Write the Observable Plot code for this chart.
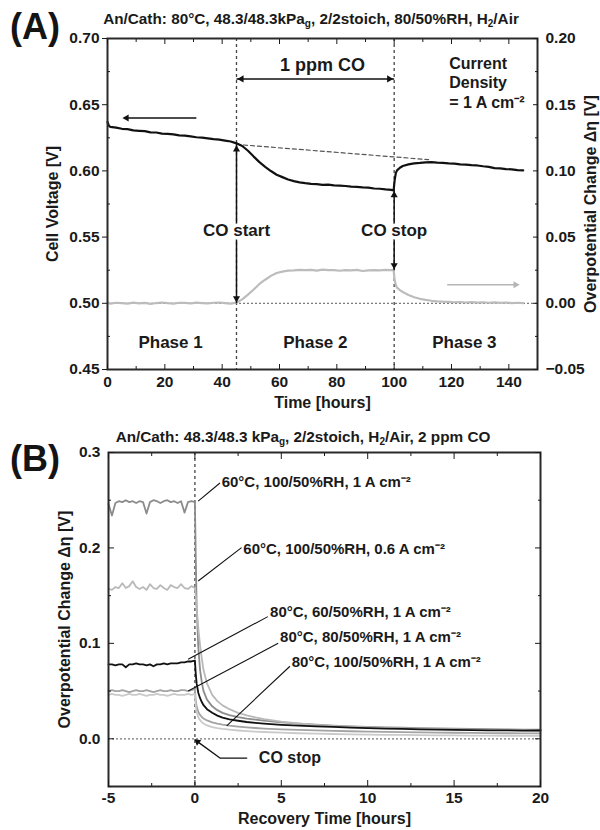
<!DOCTYPE html>
<html>
<head>
<meta charset="utf-8">
<script src="https://cdn.jsdelivr.net/npm/d3@7"></script>
<script src="https://cdn.jsdelivr.net/npm/@observablehq/plot@0.6"></script>
<style>
  body { margin: 0; background: #fff; }
  #wrap { position: relative; width: 600px; height: 830px; font-family: "Liberation Sans", Arial, sans-serif; font-weight: bold; color: #1a1a1a; }
  .panel { position: absolute; left: 0; }
  .tag { position: absolute; font-size: 36px; font-weight: bold; line-height: 1; color: #141414; }
  .title { position: absolute; font-size: 15.3px; font-weight: bold; white-space: nowrap; transform: translateX(-50%); line-height: 1; }
  .title sub { font-size: 10px; vertical-align: -3px; line-height: 0; }
  #wrap svg text { font-weight: bold !important; }
  #wrap svg g[aria-label$="tick label"] text { font-size: 15.5px !important; }
</style>
</head>
<body>
<div id="wrap">
  <div id="panelA" class="panel" style="top:0"></div>
  <div id="panelB" class="panel" style="top:412px"></div>
  <div class="tag" style="left:10px;top:9px">(A)</div>
  <div class="title" style="left:311px;top:11px">An/Cath: 80°C, 48.3/48.3kPa<sub>g</sub>, 2/2stoich, 80/50%RH, H<sub>2</sub>/Air</div>
  <div class="tag" style="left:10px;top:441px">(B)</div>
  <div class="title" style="left:303px;top:429px">An/Cath: 48.3/48.3 kPa<sub>g</sub>, 2/2stoich, H<sub>2</sub>/Air, 2 ppm CO</div>
</div>
<script>
// ---------- Panel A: cell voltage and overpotential change during a 1 ppm CO exposure ----------
const hoursA = [
  0, 0.5, 1, 3, 5, 7, 9, 11, 13, 15, 17, 19, 21, 23, 25, 27, 29, 31, 33, 35, 37, 39, 41, 43, 45,
  47, 49, 51, 53, 55, 57, 59, 61, 63, 65, 67, 69, 71, 73, 75, 77, 79, 81, 83, 85, 87, 89, 91, 93, 95, 97, 99, 99.8,
  100.2, 100.6, 101, 102, 103, 105, 107, 109, 111, 113, 115, 117, 119, 121, 123, 125, 127, 129, 131, 133, 135, 137, 139, 141, 143, 145
];
const cellVoltage = [
  0.6370, 0.6340, 0.6332, 0.6327, 0.6318, 0.6315, 0.6306, 0.6303, 0.6300, 0.6291, 0.6290, 0.6282, 0.6280, 0.6276, 0.6268, 0.6266, 0.6261, 0.6254, 0.6251, 0.6246, 0.6240, 0.6236, 0.6229, 0.6222, 0.6208,
  0.6188, 0.6152, 0.6108, 0.6066, 0.6031, 0.5999, 0.5971, 0.5953, 0.5935, 0.5923, 0.5913, 0.5907, 0.5902, 0.5900, 0.5895, 0.5896, 0.5891, 0.5889, 0.5886, 0.5881, 0.5880, 0.5876, 0.5874, 0.5867, 0.5865, 0.5860, 0.5857, 0.5852,
  0.5935, 0.5985, 0.6004, 0.6024, 0.6037, 0.6049, 0.6057, 0.6060, 0.6065, 0.6066, 0.6063, 0.6061, 0.6057, 0.6055, 0.6049, 0.6048, 0.6043, 0.6041, 0.6035, 0.6030, 0.6021, 0.6019, 0.6014, 0.6012, 0.6006, 0.6004
];
const overpotentialA = [
  0.0000, 0.0002, -0.0003, 0.0004, 0.0001, -0.0002, 0.0005, 0.0000, 0.0003, -0.0004, 0.0002, 0.0006, 0.0001, -0.0002, 0.0004, 0.0003, 0.0000, 0.0005, 0.0002, -0.0001, 0.0004, 0.0006, 0.0002, -0.0003, 0.0005,
  0.0030, 0.0066, 0.0104, 0.0146, 0.0178, 0.0207, 0.0229, 0.0239, 0.0247, 0.0249, 0.0253, 0.0250, 0.0252, 0.0247, 0.0254, 0.0250, 0.0251, 0.0246, 0.0251, 0.0249, 0.0253, 0.0244, 0.0248, 0.0250, 0.0249, 0.0252, 0.0250, 0.0253,
  0.0172, 0.0136, 0.0118, 0.0099, 0.0085, 0.0063, 0.0046, 0.0034, 0.0026, 0.0019, 0.0015, 0.0012, 0.0011, 0.0008, 0.0010, 0.0006, 0.0009, 0.0005, 0.0008, 0.0004, 0.0007, 0.0003, 0.0006, 0.0002, 0.0004, 0.0001
];
const zeroOverpotentialVoltage = 0.50;      // Δη = 0 on the right axis lines up with 0.50 V
const coWindow = [45, 100];                 // CO start, CO stop (hours)
const trendHours = [45, 112];               // extrapolated pre-CO decay
const trendVoltage = [0.6200, 0.6085];
const voltageTicks = [0.45, 0.50, 0.55, 0.60, 0.65, 0.70];
const voltageMinor = [0.475, 0.525, 0.575, 0.625, 0.675];
const overpotentialTicks = [-0.05, 0.00, 0.05, 0.10, 0.15, 0.20];
const hourTicksA = [0, 20, 40, 60, 80, 100, 120, 140];
const hourMinorA = [10, 30, 50, 70, 90, 110, 130, 150];
const phaseNames = ["Phase 1", "Phase 2", "Phase 3"];
const phaseHours = [22, 72.5, 124.5];
const phaseVoltage = 0.4705;
const coSpanVoltage = 0.6695;
const coStartSpan = [0.620, 0.500];
const coStopSpan = [0.5855, 0.5250];
const coLabelVoltage = 0.555;
const voltageArrow = {hours: [31, 7], voltage: 0.640};
const overpotArrow = {hours: [118.5, 142], voltage: 0.514};
const densityNote = {hours: 119.2, voltage: 0.667, text: "Current\nDensity\n= 1 A cm⁻²"};

// ---------- Panel B: recovery of the overpotential after CO is switched off ----------
const recoveryHours = [
  -5, -4.8, -4.6, -4.4, -4.2, -4, -3.8, -3.6, -3.4, -3.2, -3, -2.8, -2.6, -2.4, -2.2, -2, -1.8, -1.6, -1.4, -1.2, -1, -0.8, -0.6, -0.4, -0.2, 0,
  0.05, 0.1, 0.2, 0.3, 0.4, 0.5, 0.7, 1, 1.3, 1.6, 2, 2.5, 3, 3.5, 4, 5, 6, 7, 8, 9, 10, 11, 12, 13, 14, 15, 16, 17, 18, 19, 20
];
const eta60C1A = [
  0.246, 0.234, 0.247, 0.249, 0.248, 0.250, 0.248, 0.249, 0.247, 0.249, 0.248, 0.236, 0.248, 0.250, 0.249, 0.247, 0.249, 0.250, 0.248, 0.249, 0.247, 0.249, 0.237, 0.248, 0.249, 0.248,
  0.190, 0.140, 0.095, 0.072, 0.059, 0.050, 0.041, 0.034, 0.0300, 0.0272, 0.0248, 0.0228, 0.0212, 0.0200, 0.0190, 0.0172, 0.0158, 0.0147, 0.0138, 0.0131, 0.0125, 0.0120, 0.0116, 0.0112, 0.0109, 0.0106, 0.0103, 0.0101, 0.0099, 0.0097, 0.0095
];
const eta60C06A = [
  0.157, 0.156, 0.159, 0.158, 0.163, 0.158, 0.160, 0.165, 0.159, 0.157, 0.159, 0.156, 0.162, 0.158, 0.157, 0.161, 0.158, 0.156, 0.161, 0.159, 0.158, 0.162, 0.158, 0.157, 0.160, 0.158,
  0.150, 0.138, 0.115, 0.098, 0.084, 0.072, 0.058, 0.046, 0.0395, 0.0350, 0.0310, 0.0272, 0.0245, 0.0224, 0.0206, 0.0180, 0.0160, 0.0146, 0.0136, 0.0128, 0.0121, 0.0115, 0.0110, 0.0106, 0.0102, 0.0099, 0.0096, 0.0093, 0.0091, 0.0089, 0.0087
];
const eta80C60RH = [
  0.078, 0.078, 0.077, 0.078, 0.078, 0.075, 0.078, 0.078, 0.079, 0.078, 0.078, 0.077, 0.078, 0.076, 0.078, 0.078, 0.079, 0.078, 0.079, 0.079, 0.079, 0.080, 0.080, 0.081, 0.081, 0.082,
  0.068, 0.058, 0.048, 0.0425, 0.0385, 0.0352, 0.0310, 0.0272, 0.0243, 0.0222, 0.0203, 0.0189, 0.0176, 0.0166, 0.0158, 0.0146, 0.0138, 0.0129, 0.0124, 0.0117, 0.0112, 0.0107, 0.0104, 0.0099, 0.0097, 0.0094, 0.0091, 0.0089, 0.0088, 0.0086, 0.0087
];
const eta80C80RH = [
  0.050, 0.051, 0.050, 0.050, 0.051, 0.050, 0.049, 0.050, 0.051, 0.050, 0.050, 0.051, 0.050, 0.049, 0.050, 0.051, 0.050, 0.050, 0.051, 0.050, 0.050, 0.051, 0.051, 0.050, 0.051, 0.052,
  0.040, 0.034, 0.028, 0.025, 0.0228, 0.0212, 0.0192, 0.0172, 0.0158, 0.0148, 0.0137, 0.0127, 0.0119, 0.0113, 0.0107, 0.0099, 0.0093, 0.0088, 0.0083, 0.0079, 0.0075, 0.0072, 0.0069, 0.0067, 0.0065, 0.0063, 0.0061, 0.0060, 0.0058, 0.0057, 0.0056
];
const eta80C100RH = [
  0.046, 0.047, 0.046, 0.046, 0.045, 0.046, 0.047, 0.046, 0.046, 0.047, 0.046, 0.045, 0.046, 0.046, 0.047, 0.046, 0.046, 0.045, 0.046, 0.047, 0.046, 0.046, 0.046, 0.047, 0.046, 0.047,
  0.034, 0.028, 0.0225, 0.0195, 0.0175, 0.0160, 0.0140, 0.0122, 0.0111, 0.0103, 0.0095, 0.0087, 0.0080, 0.0075, 0.0071, 0.0064, 0.0058, 0.0054, 0.0050, 0.0047, 0.0044, 0.0042, 0.0040, 0.0038, 0.0036, 0.0035, 0.0034, 0.0033, 0.0032, 0.0031, 0.0030
];
const seriesLabels = [
  "60°C, 100/50%RH, 1 A cm⁻²",
  "60°C, 100/50%RH, 0.6 A cm⁻²",
  "80°C, 60/50%RH, 1 A cm⁻²",
  "80°C, 80/50%RH, 1 A cm⁻²",
  "80°C, 100/50%RH, 1 A cm⁻²"
];
const labelHours = [1.55, 2.8, 4.35, 4.93, 5.6];
const labelEta = [0.2684, 0.1986, 0.1323, 0.1061, 0.0799];
const leaderFromHours = [0.19, 0.19, -0.39, -0.39, 1.84];
const leaderFromEta = [0.249, 0.1654, 0.0834, 0.050, 0.0136];
const leaderToHours = [1.45, 2.70, 4.22, 4.82, 5.50];
const leaderToEta = [0.268, 0.2003, 0.128, 0.100, 0.076];
const coStopPathHours = [3.0, 1.45, 0.15];
const coStopPathEta = [-0.0202, -0.0202, -0.003];
const coStopLabel = {hours: 3.7, eta: -0.0202};
const etaTicksB = [0.0, 0.1, 0.2, 0.3];
const etaMinorB = [-0.05, 0.05, 0.15, 0.25];
const hourTicksB = [-5, 0, 5, 10, 15, 20];
const hourMinorB = [-2.5, 2.5, 7.5, 12.5, 17.5];

// ---------- drawing ----------
const font = "'Liberation Sans', Arial, Helvetica, sans-serif";
const ink = "#1a1a1a";
const baseStyle = {fontFamily: font, fontWeight: "bold", fontSize: "15px", color: ink, background: "transparent"};
const blank = () => "";
const f2 = d3.format(".2f");
const f1 = d3.format(".1f");

const plotA = Plot.plot({
  width: 600, height: 412,
  marginTop: 38, marginBottom: 43, marginLeft: 107, marginRight: 63,
  x: {domain: [0, 150]},
  y: {domain: [0.45, 0.70]},
  style: baseStyle,
  marks: [
    Plot.ruleY([zeroOverpotentialVoltage], {stroke: "#7a7a7a", strokeWidth: 1.3, strokeDasharray: "2,2"}),
    Plot.ruleX(coWindow, {stroke: "#444", strokeWidth: 1.3, strokeDasharray: "3,3"}),
    Plot.line(trendHours, {x: trendHours, y: trendVoltage, stroke: "#555", strokeWidth: 1.2, strokeDasharray: "4,3"}),
    Plot.line(hoursA, {x: hoursA, y: overpotentialA.map(d => d + zeroOverpotentialVoltage), stroke: "#bcbcbc", strokeWidth: 2.2}),
    Plot.line(hoursA, {x: hoursA, y: cellVoltage, stroke: "#111", strokeWidth: 2.2}),

    // direction arrows for each axis
    Plot.link([0], {x1: voltageArrow.hours[0], x2: voltageArrow.hours[1], y1: voltageArrow.voltage, y2: voltageArrow.voltage, stroke: "#111", strokeWidth: 1.5}),
    Plot.dot([0], {x: voltageArrow.hours[1], y: voltageArrow.voltage, symbol: "triangle2", r: 3.4, rotate: -90, fill: "#111", dx: -1}),
    Plot.link([0], {x1: overpotArrow.hours[0], x2: overpotArrow.hours[1], y1: overpotArrow.voltage, y2: overpotArrow.voltage, stroke: "#b5b5b5", strokeWidth: 1.5}),
    Plot.dot([0], {x: overpotArrow.hours[1], y: overpotArrow.voltage, symbol: "triangle2", r: 3.4, rotate: 90, fill: "#b5b5b5", dx: 1}),

    // 1 ppm CO window
    Plot.link([0], {x1: coWindow[0], x2: coWindow[1], y1: coSpanVoltage, y2: coSpanVoltage, stroke: "#111", strokeWidth: 1.5}),
    Plot.dot([coWindow[0]], {x: d => d, y: coSpanVoltage, symbol: "triangle2", r: 3.4, rotate: -90, fill: "#111", dx: 5}),
    Plot.dot([coWindow[1]], {x: d => d, y: coSpanVoltage, symbol: "triangle2", r: 3.4, rotate: 90, fill: "#111", dx: -5}),
    Plot.text(["1 ppm CO"], {x: (coWindow[0] + coWindow[1]) / 2 + 2.5, y: 0.6800, text: d => d, fontSize: 18}),

    // CO start / CO stop markers
    Plot.link([0], {x1: coWindow[0], x2: coWindow[0], y1: coStartSpan[0], y2: coStartSpan[1], stroke: "#111", strokeWidth: 1.5}),
    Plot.link([0], {x1: coWindow[1], x2: coWindow[1], y1: coStopSpan[0], y2: coStopSpan[1], stroke: "#111", strokeWidth: 1.5}),
    Plot.dot([coStartSpan[0], coStopSpan[0]], {x: [coWindow[0], coWindow[1]], y: d => d, symbol: "triangle2", r: 3.4, fill: "#111", dy: 5}),
    Plot.dot([coStartSpan[1], coStopSpan[1]], {x: [coWindow[0], coWindow[1]], y: d => d, symbol: "triangle2", r: 3.4, rotate: 180, fill: "#111", dy: -5}),
    Plot.text(["CO start", "CO stop"], {x: coWindow, y: coLabelVoltage, text: d => d, fontSize: 17, fill: ink, stroke: "white", strokeWidth: 7, paintOrder: "stroke"}),

    Plot.text(phaseNames, {x: phaseHours, y: phaseVoltage, text: d => d, fontSize: 17}),
    Plot.text([densityNote.text], {x: densityNote.hours, y: densityNote.voltage, text: d => d, textAnchor: "start", fontSize: 16, lineHeight: 1.2}),

    Plot.frame({stroke: "#2a2a2a", strokeWidth: 2}),
    // left axis: cell voltage
    Plot.axisY({anchor: "left", ticks: voltageTicks, tickSize: 5, tickPadding: 3, tickFormat: f2, label: null}),
    Plot.axisY({anchor: "left", ticks: voltageMinor, tickSize: -3, tickFormat: blank, label: null}),
    // right axis: overpotential change, offset from cell voltage
    Plot.axisY({anchor: "right", ticks: overpotentialTicks.map(d => +(d + zeroOverpotentialVoltage).toFixed(3)), tickSize: -5, tickFormat: blank, label: null}),
    Plot.axisY({anchor: "right", ticks: overpotentialTicks.map(d => +(d + zeroOverpotentialVoltage).toFixed(3)), tickSize: 0, tickPadding: 8, tickFormat: d => f2(d - zeroOverpotentialVoltage), label: null}),
    Plot.axisY({anchor: "right", ticks: voltageMinor, tickSize: -3, tickFormat: blank, label: null}),
    // time axes
    Plot.axisX({anchor: "bottom", ticks: hourTicksA, tickSize: -5, tickFormat: blank, label: null}),
    Plot.axisX({anchor: "bottom", ticks: hourMinorA, tickSize: -3, tickFormat: blank, label: null}),
    Plot.axisX({anchor: "bottom", ticks: hourTicksA, tickSize: 0, tickPadding: 6, label: null}),
    Plot.axisX({anchor: "top", ticks: hourTicksA, tickSize: -5, tickFormat: blank, label: null}),
    Plot.axisX({anchor: "top", ticks: hourMinorA, tickSize: -3, tickFormat: blank, label: null}),

    Plot.text(["Cell Voltage [V]"], {frameAnchor: "left", dx: -55, rotate: -90, textAnchor: "middle", lineAnchor: "middle", text: d => d, fontSize: 16}),
    Plot.text(["Overpotential Change Δη [V]"], {frameAnchor: "right", dx: 53, rotate: -90, textAnchor: "middle", lineAnchor: "middle", text: d => d, fontSize: 16}),
    Plot.text(["Time [hours]"], {frameAnchor: "bottom", dy: 33, lineAnchor: "middle", text: d => d, fontSize: 16})
  ]
});
document.getElementById("panelA").append(plotA);

const seriesOrder = [
  {values: eta60C1A, stroke: "#8c8c8c"},
  {values: eta60C06A, stroke: "#b9b9b9"},
  {values: eta80C80RH, stroke: "#a3a3a3"},
  {values: eta80C100RH, stroke: "#cacaca"},
  {values: eta80C60RH, stroke: "#111111"}
];

const plotB = Plot.plot({
  width: 600, height: 418,
  marginTop: 40, marginBottom: 44, marginLeft: 108, marginRight: 60,
  x: {domain: [-5, 20]},
  y: {domain: [-0.05, 0.3]},
  style: baseStyle,
  marks: [
    Plot.ruleY([0], {stroke: "#777", strokeWidth: 1.3, strokeDasharray: "2,2"}),
    Plot.ruleX([0], {stroke: "#444", strokeWidth: 1.3, strokeDasharray: "3,3"}),
    ...seriesOrder.map(s => Plot.line(recoveryHours, {x: recoveryHours, y: s.values, stroke: s.stroke, strokeWidth: 1.8})),

    Plot.link(seriesLabels, {x1: leaderFromHours, y1: leaderFromEta, x2: leaderToHours, y2: leaderToEta, stroke: "#111", strokeWidth: 1.1}),
    Plot.text(seriesLabels, {x: labelHours, y: labelEta, text: d => d, textAnchor: "start", fontSize: 15}),

    Plot.line(coStopPathHours, {x: coStopPathHours, y: coStopPathEta, stroke: "#111", strokeWidth: 1.3}),
    Plot.dot([0], {x: coStopPathHours[2], y: coStopPathEta[2], symbol: "triangle2", r: 3.4, rotate: -51.5, fill: "#111"}),
    Plot.text(["CO stop"], {x: coStopLabel.hours, y: coStopLabel.eta, text: d => d, textAnchor: "start", fontSize: 16}),

    Plot.frame({stroke: "#2a2a2a", strokeWidth: 2}),
    Plot.axisY({anchor: "left", ticks: etaTicksB, tickSize: -6, tickFormat: blank, label: null}),
    Plot.axisY({anchor: "left", ticks: etaMinorB, tickSize: -3, tickFormat: blank, label: null}),
    Plot.axisY({anchor: "left", ticks: etaTicksB, tickSize: 0, tickPadding: 8, tickFormat: f1, label: null}),
    Plot.axisY({anchor: "right", ticks: etaTicksB, tickSize: -6, tickFormat: blank, label: null}),
    Plot.axisY({anchor: "right", ticks: etaMinorB, tickSize: -3, tickFormat: blank, label: null}),
    Plot.axisX({anchor: "bottom", ticks: hourTicksB, tickSize: -6, tickFormat: blank, label: null}),
    Plot.axisX({anchor: "bottom", ticks: hourMinorB, tickSize: -3, tickFormat: blank, label: null}),
    Plot.axisX({anchor: "bottom", ticks: hourTicksB, tickSize: 0, tickPadding: 5, tickFormat: d => String(d), label: null}),
    Plot.axisX({anchor: "top", ticks: hourTicksB, tickSize: -6, tickFormat: blank, label: null}),
    Plot.axisX({anchor: "top", ticks: hourMinorB, tickSize: -3, tickFormat: blank, label: null}),

    Plot.text(["Overpotential Change Δη [V]"], {frameAnchor: "left", dx: -44, rotate: -90, textAnchor: "middle", lineAnchor: "middle", text: d => d, fontSize: 16}),
    Plot.text(["Recovery Time [hours]"], {frameAnchor: "bottom", dy: 32, lineAnchor: "middle", text: d => d, fontSize: 16})
  ]
});
document.getElementById("panelB").append(plotB);
</script>
</body>
</html>
